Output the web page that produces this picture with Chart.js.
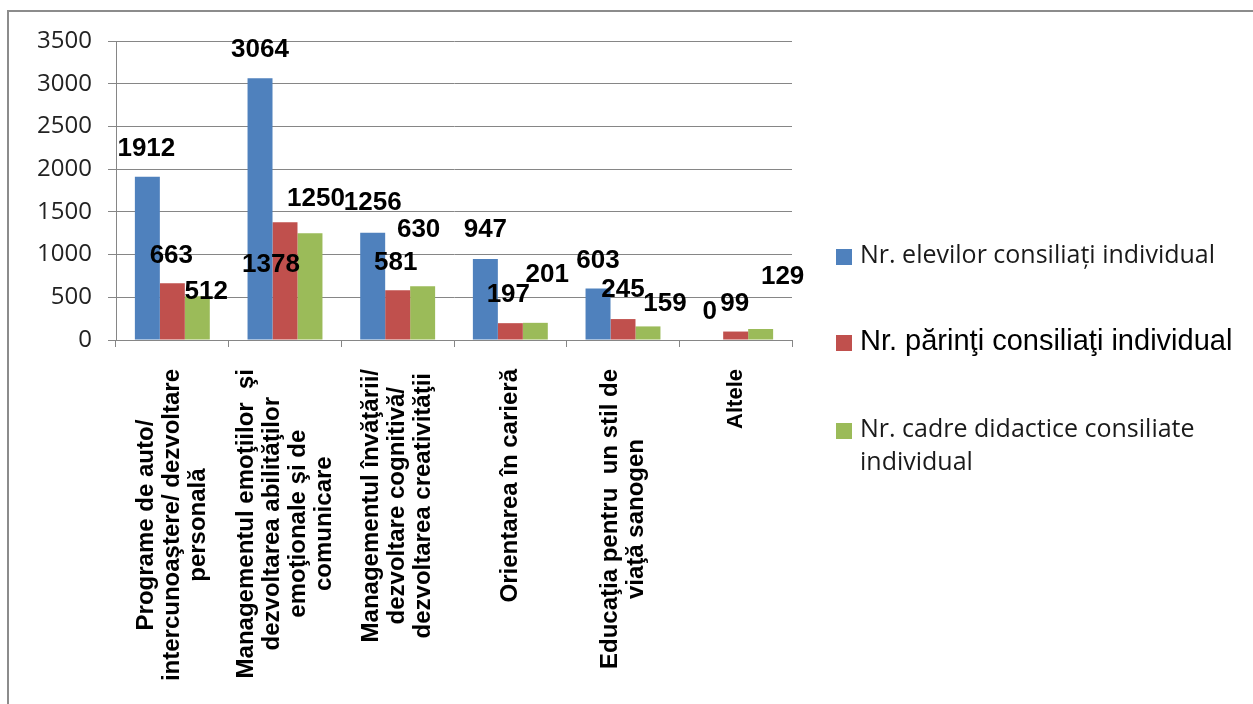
<!DOCTYPE html>
<html lang="ro">
<head>
<meta charset="utf-8">
<title>Consiliere individuală</title>
<script src="https://cdn.jsdelivr.net/npm/chart.js@4.4.1/dist/chart.umd.min.js"></script>
<style>
  html, body { margin: 0; padding: 0; background: #ffffff; }
  #wrap { position: relative; width: 1253px; height: 704px; overflow: hidden; }
  #frame {
    position: absolute; left: 7px; top: 10px; width: 1270px; height: 720px;
    border: 2px solid #8c8c8c; box-sizing: border-box; pointer-events: none;
  }
  #counsel-chart { position: absolute; left: 0; top: 0; }
</style>
</head>
<body>
<div id="wrap">
  <canvas id="counsel-chart" width="1253" height="704"></canvas>
  <div id="frame"></div>
</div>
<script>
// Categories (one array of lines per category label)
const categories = [
  ['Programe de auto/', 'intercunoaştere/ dezvoltare', 'personală'],
  ['Managementul emoţiilor  şi', 'dezvoltarea abilităţilor', 'emoţionale şi de', 'comunicare'],
  ['Managementul învăţării/', 'dezvoltare cognitivă/', 'dezvoltarea creativităţii'],
  ['Orientarea în carieră'],
  ['Educaţia pentru  un stil de', 'viaţă sanogen'],
  ['Altele']
];

// Series
const seriesNames = [
  'Nr. elevilor consiliaţi individual',
  'Nr. părinţi consiliaţi individual',
  'Nr. cadre didactice consiliate individual'
];
const elevi = [1912, 3064, 1256, 947, 603, 0];
const parinti = [663, 1378, 581, 197, 245, 99];
const cadre = [512, 1250, 630, 201, 159, 129];

// Y axis ticks
const yTicks = [0, 500, 1000, 1500, 2000, 2500, 3000, 3500];

// Style
const colors = ['#4F81BD', '#C0504D', '#9BBB59'];
const gridColor = '#868686';

// Where each value label sits relative to the top of its bar (as in the original)
const labelShift = [
  [[-1, -28], [0, -28], [0, -30], [0, -29], [0, -28], [-1, -28]],
  [[-1, -28], [-14, 43], [-2, -28], [-2, -28], [0, -29], [-1, -28]],
  [[9, -4], [6, -34], [-4, -56], [12, -48], [17, -23], [22, -52]]
];

/**
 * Value labels above the bars
 */
const valueLabels = {
  id: 'valueLabels',
  afterDatasetsDraw(chart) {
    const ctx = chart.ctx;
    ctx.save();
    ctx.font = 'bold 26px "Liberation Sans", Arial, sans-serif';
    ctx.fillStyle = '#000000';
    ctx.textAlign = 'center';
    ctx.textBaseline = 'middle';
    chart.data.datasets.forEach((ds, di) => {
      chart.getDatasetMeta(di).data.forEach((bar, i) => {
        const shift = labelShift[di][i];
        ctx.fillText(String(ds.data[i]), bar.x + shift[0], bar.y + shift[1]);
      });
    });
    ctx.restore();
  }
};

/**
 * Rotated, centred multi-line category labels
 */
const categoryLabels = {
  id: 'categoryLabels',
  afterDraw(chart) {
    const ctx = chart.ctx;
    const xScale = chart.scales.x;
    const top = xScale.top + 29;
    const lineHeight = 26;
    ctx.save();
    ctx.fillStyle = '#000000';
    ctx.textAlign = 'center';
    ctx.textBaseline = 'middle';
    categories.forEach((lines, i) => {
      ctx.font = (lines[0] === 'Altele' ? 'bold 22px' : 'bold 24px') + ' "Liberation Sans", Arial, sans-serif';
      const longest = Math.max(...lines.map(l => ctx.measureText(l).width));
      const x = xScale.getPixelForValue(i);
      ctx.save();
      ctx.translate(x, top + longest / 2);
      ctx.rotate(-Math.PI / 2);
      lines.forEach((line, j) => {
        ctx.fillText(line, 0, (j - (lines.length - 1) / 2) * lineHeight);
      });
      ctx.restore();
    });
    ctx.restore();
  }
};

/**
 * Legend on the right, drawn by hand so each entry keeps its own font
 */
const sideLegend = {
  id: 'sideLegend',
  afterDraw(chart) {
    const ctx = chart.ctx;
    const x = chart.chartArea.right + 44;
    const entries = [
      { lines: ['Nr. elevilor consiliaţi individual'], y: 257, font: '25px "Open Sans", sans-serif', color: '#1a1a1a' },
      { lines: [seriesNames[1]], y: 343, font: '29px "Liberation Sans", Arial, sans-serif', color: '#000000' },
      { lines: ['Nr. cadre didactice consiliate', 'individual'], y: 431, font: '25px "Open Sans", sans-serif', color: '#1a1a1a' }
    ];
    ctx.save();
    ctx.textAlign = 'left';
    ctx.textBaseline = 'middle';
    entries.forEach((entry, i) => {
      ctx.fillStyle = colors[i];
      ctx.fillRect(x, entry.y - 8, 16, 16);
      ctx.fillStyle = entry.color;
      ctx.font = entry.font;
      entry.lines.forEach((line, j) => {
        ctx.fillText(line, x + 24, entry.y - 1 + j * 33);
      });
    });
    ctx.restore();
  }
};

function initChart() {
  const ctx = document.getElementById('counsel-chart');

  new Chart(ctx, {
    type: 'bar',
    data: {
      labels: categories.map(c => c.join(' ')),
      datasets: [elevi, parinti, cadre].map((values, i) => ({
        label: seriesNames[i],
        data: values,
        backgroundColor: colors[i],
        borderWidth: 0,
        categoryPercentage: 0.665,
        barPercentage: 1.0
      }))
    },
    options: {
      responsive: false,
      animation: false,
      layout: {
        padding: { left: 0, top: 41, right: 461, bottom: 0 }
      },
      plugins: {
        legend: { display: false },
        tooltip: { enabled: false }
      },
      scales: {
        x: {
          offset: true,
          grid: {
            offset: true,
            drawOnChartArea: false,
            drawTicks: true,
            tickLength: 7,
            color: gridColor
          },
          border: { color: gridColor },
          ticks: { display: false },
          afterFit(scale) { scale.height = 364; }
        },
        y: {
          min: 0,
          max: yTicks[yTicks.length - 1],
          afterBuildTicks(scale) {
            scale.ticks = yTicks.map(v => ({ value: v }));
          },
          grid: { color: gridColor, tickLength: 8 },
          border: { color: gridColor },
          ticks: {
            color: '#222222',
            padding: 16,
            font: { family: 'Open Sans', size: 24 },
            callback: value => String(value)
          },
          afterFit(scale) { scale.width = 116; }
        }
      }
    },
    plugins: [valueLabels, categoryLabels, sideLegend]
  });
}

if (document.readyState === 'loading') {
  document.addEventListener('DOMContentLoaded', initChart);
} else {
  initChart();
}
</script>
</body>
</html>
